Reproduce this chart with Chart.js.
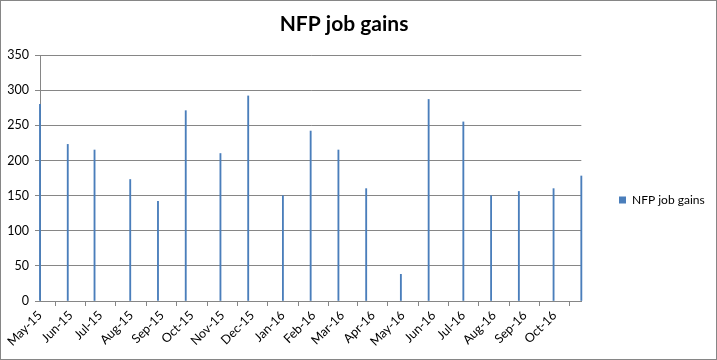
<!DOCTYPE html>
<html>
<head>
<meta charset="utf-8">
<script src="https://cdn.jsdelivr.net/npm/chart.js@4.4.1/dist/chart.umd.min.js"></script>
<style>
  html, body { margin: 0; padding: 0; background: #fff; }
  #wrap { width: 717px; height: 360px; box-sizing: border-box; border: 1px solid #868686; background: #fff; }
  canvas { display: block; }
</style>
</head>
<body>
<div id="wrap"><canvas id="c" width="715" height="358"></canvas></div>
<script>
// Release dates of each NFP report
const releaseDates = ['2015-05-08','2015-06-05','2015-07-02','2015-08-07','2015-09-04','2015-10-02','2015-11-06','2015-12-04','2016-01-08','2016-02-05','2016-03-04','2016-04-01','2016-05-06','2016-06-03','2016-07-08','2016-08-05','2016-09-02','2016-10-07','2016-11-04'];
// Job gains (thousands)
const jobGains = [280,223,215,173,142,271,210,292,150,242,215,160,38,287,255,150,156,160,178];
// Axis tick dates and labels
const tickDates = ['2015-05-08','2015-06-08','2015-07-08','2015-08-08','2015-09-08','2015-10-08','2015-11-08','2015-12-08','2016-01-08','2016-02-08','2016-03-08','2016-04-08','2016-05-08','2016-06-08','2016-07-08','2016-08-08','2016-09-08','2016-10-08'];
const tickLabels = ['May-15','Jun-15','Jul-15','Aug-15','Sep-15','Oct-15','Nov-15','Dec-15','Jan-16','Feb-16','Mar-16','Apr-16','May-16','Jun-16','Jul-16','Aug-16','Sep-16','Oct-16'];
const yTicks = [0,50,100,150,200,250,300,350];
const seriesName = 'NFP job gains';

const DAY = 86400000;
const toDays = s => Date.parse(s + 'T00:00:00Z') / DAY;
const points = releaseDates.map((d, i) => ({ x: toDays(d), y: jobGains[i] }));
const tickVals = tickDates.map(toDays);

const FONT = 'Lato, "Open Sans", sans-serif';
const GRID = '#868686';

// place the legend where the reference has it
const legendShift = {
  id: 'legendShift',
  afterLayout(chart) {
    const lg = chart.legend;
    if (!lg) return;
    const dx = 618 - (lg.left + 10), dy = 20;
    lg.left += dx; lg.right += dx;
    lg.top += dy; lg.bottom += dy;
  }
};

new Chart(document.getElementById('c'), {
  type: 'bar',
  data: {
    datasets: [{
      label: seriesName,
      data: points,
      backgroundColor: '#4A7EBB',
      borderWidth: 0,
      barThickness: 1.2,
      clip: false
    }]
  },
  options: {
    responsive: false,
    devicePixelRatio: 1,
    animation: false,
    layout: { padding: { left: 0, right: 29, top: 0, bottom: 0 } },
    scales: {
      x: {
        type: 'linear',
        min: toDays(releaseDates[0]),
        max: toDays(releaseDates[releaseDates.length - 1]),
        offset: false,
        afterBuildTicks: s => { s.ticks = tickVals.map(v => ({ value: v })); },
        afterFit: s => { s.height = 58; },
        ticks: {
          autoSkip: false,
          maxRotation: 45,
          minRotation: 45,
          padding: 2,
          color: '#000',
          font: { family: FONT, size: 12.5 },
          callback: (v, i) => tickLabels[i]
        },
        grid: { drawOnChartArea: false, drawTicks: true, tickLength: 5, color: GRID },
        border: { color: GRID }
      },
      y: {
        min: 0,
        max: 350,
        afterBuildTicks: s => { s.ticks = yTicks.map(v => ({ value: v })); },
        afterFit: s => { s.width = 39; },
        ticks: { padding: 6, color: '#000', font: { family: FONT, size: 12.5 } },
        grid: { color: GRID, tickLength: 5 },
        border: { color: GRID }
      }
    },
    plugins: {
      title: {
        display: true,
        text: seriesName,
        color: '#000',
        font: { family: FONT, size: 21, weight: 'bold' },
        padding: { top: 11, bottom: 18 }
      },
      legend: {
        position: 'right',
        labels: {
          boxWidth: 7,
          boxHeight: 7,
          color: '#000',
          font: { family: FONT, size: 12 },
          padding: 10
        }
      },
      tooltip: { enabled: false }
    }
  },
  plugins: [legendShift]
});
</script>
</body>
</html>
